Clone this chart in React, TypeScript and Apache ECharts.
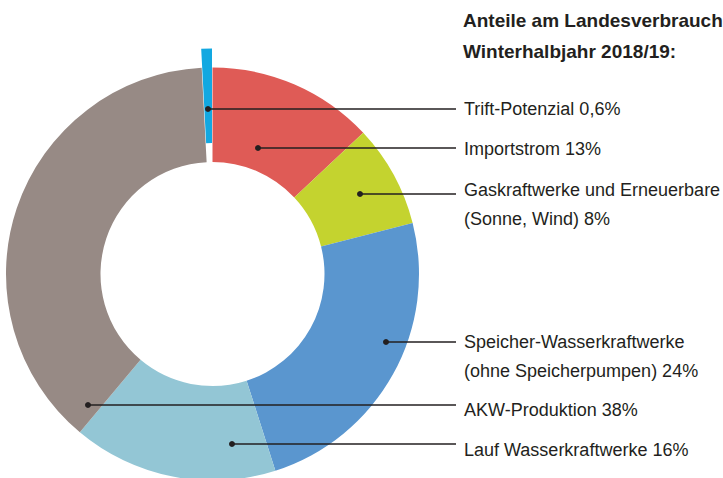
import React, { useEffect, useRef } from "react";
import * as echarts from "echarts";

// Data (clockwise from 12 o'clock)
const categories = [
  "Importstrom",
  "Gaskraftwerke und Erneuerbare\n(Sonne, Wind)",
  "Speicher-Wasserkraftwerke\n(ohne Speicherpumpen)",
  "Lauf Wasserkraftwerke",
  "AKW-Produktion",
  "Trift-Potenzial",
];
const shares = [13, 8, 24, 16, 38, 0.6];
const titleLines = ["Anteile am Landesverbrauch", "Winterhalbjahr 2018/19:"];

// Styling / layout
const colors = ["#DF5B56", "#C4D32F", "#5A96CF", "#93C6D5", "#978A85", "#12A8E1"];
const explodedIndex = 5;
const labelX = 464;
const lineEndX = 456;
const labelCenterY = [149, 204, 356.5, 450, 410, 109];
const leaderY = [148, 194, 342, 444, 405, 109];
const anchorX = [258, 360, 386, 232, 88, 208];

const FONT = "'Liberation Sans', Arial, sans-serif";
const TEXT_COLOR = "#231F20";

function fmt(v: number): string {
  return String(v).replace(".", ",") + "%";
}

export default function App() {
  const ref = useRef<HTMLDivElement>(null);
  useEffect(() => {
    if (!ref.current) return;
    const chart = echarts.init(ref.current, undefined, { renderer: "svg" });

    const annotations: any[] = [];
    categories.forEach((name, i) => {
      annotations.push({
        type: "line",
        shape: { x1: anchorX[i], y1: leaderY[i], x2: lineEndX, y2: leaderY[i] },
        style: { stroke: TEXT_COLOR, lineWidth: 1.5 },
        z: 100,
      });
      annotations.push({
        type: "circle",
        shape: { cx: anchorX[i], cy: leaderY[i], r: 3 },
        style: { fill: TEXT_COLOR },
        z: 101,
      });
      annotations.push({
        type: "text",
        x: labelX,
        y: labelCenterY[i],
        style: {
          text: name + " " + fmt(shares[i]),
          fontFamily: FONT,
          fontSize: 18,
          lineHeight: 29,
          fill: TEXT_COLOR,
          textAlign: "left",
          textVerticalAlign: "middle",
        },
        z: 100,
      });
    });

    const option: any = {
      animation: false,
      backgroundColor: "#ffffff",
      title: {
        text: titleLines.join("\n"),
        left: 463,
        top: 5,
        padding: 0,
        textStyle: {
          fontFamily: FONT,
          fontWeight: "bold",
          fontSize: 19,
          lineHeight: 31,
          color: TEXT_COLOR,
        },
      },
      graphic: annotations,
      series: [
        {
          type: "pie",
          center: [212.5, 274],
          radius: [112, 206.5],
          startAngle: 90,
          clockwise: true,
          minAngle: 3,
          avoidLabelOverlap: false,
          selectedMode: "single",
          selectedOffset: 19,
          emphasis: { disabled: true },
          itemStyle: { borderWidth: 0 },
          label: { show: false },
          labelLine: { show: false },
          data: categories.map((name, i) => ({
            name,
            value: shares[i],
            selected: i === explodedIndex,
            itemStyle: { color: colors[i] },
          })),
        },
      ],
    };
    chart.setOption(option);
    return () => chart.dispose();
  }, []);
  return (
    <div
      ref={ref}
      style={{ position: "fixed", left: 0, top: 0, width: 723, height: 478 }}
    />
  );
}
